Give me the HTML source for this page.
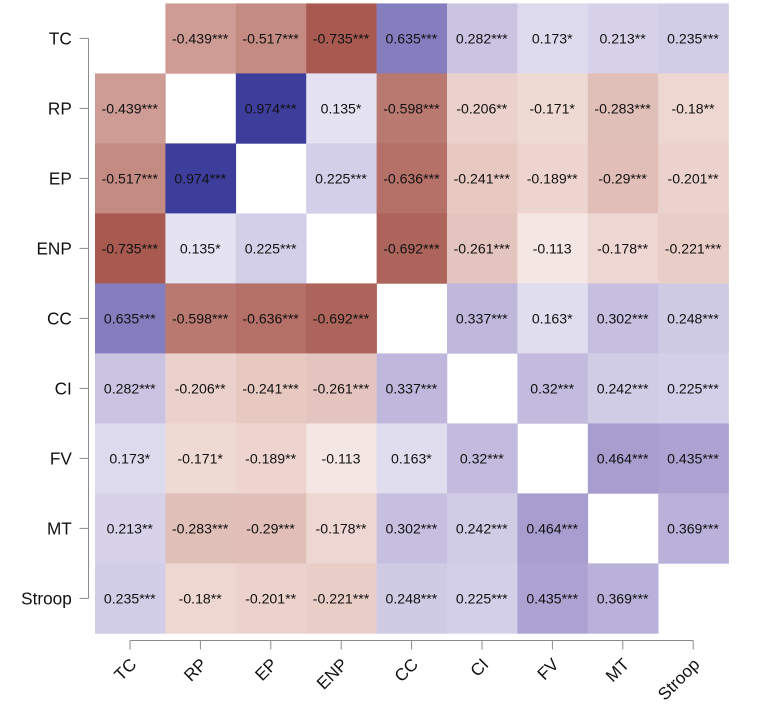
<!DOCTYPE html>
<html lang="en">
<head>
<meta charset="utf-8">
<title>Correlation heatmap</title>
<style>
html,body{margin:0;padding:0;background:#fff;width:776px;height:704px;overflow:hidden}
svg{display:block;font-family:"Liberation Sans",Arial,sans-serif}
</style>
</head>
<body>
<svg id="chart" width="776" height="704" viewBox="0 0 776 704" xmlns="http://www.w3.org/2000/svg"></svg>
<script>
const categories = ["TC","RP","EP","ENP","CC","CI","FV","MT","Stroop"];
const correlations = [
  [null,-0.439,-0.517,-0.735,0.635,0.282,0.173,0.213,0.235],
  [-0.439,null,0.974,0.135,-0.598,-0.206,-0.171,-0.283,-0.18],
  [-0.517,0.974,null,0.225,-0.636,-0.241,-0.189,-0.29,-0.201],
  [-0.735,0.135,0.225,null,-0.692,-0.261,-0.113,-0.178,-0.221],
  [0.635,-0.598,-0.636,-0.692,null,0.337,0.163,0.302,0.248],
  [0.282,-0.206,-0.241,-0.261,0.337,null,0.32,0.242,0.225],
  [0.173,-0.171,-0.189,-0.113,0.163,0.32,null,0.464,0.435],
  [0.213,-0.283,-0.29,-0.178,0.302,0.242,0.464,null,0.369],
  [0.235,-0.18,-0.201,-0.221,0.248,0.225,0.435,0.369,null]
];
const significance = [
  ["","***","***","***","***","***","*","**","***"],
  ["***","","***","*","***","**","*","***","**"],
  ["***","***","","***","***","***","**","***","**"],
  ["***","*","***","","***","***","","**","***"],
  ["***","***","***","***","","***","*","***","***"],
  ["***","**","***","***","***","","***","***","***"],
  ["*","*","**","","*","***","","***","***"],
  ["**","***","***","**","***","***","***","","***"],
  ["***","**","**","***","***","***","***","***",""]
];

const NS = "http://www.w3.org/2000/svg";
const svg = document.getElementById("chart");
const gridLeft = 95, gridTop = 3.4, cellW = 70.4, cellH = 70;
const axisColor = "#8a8a8a";

function xAt(i){ return gridLeft + i * cellW; }
function yAt(i){ return gridTop + i * cellH; }
function xMid(i){ return xAt(i) + cellW / 2 - 0.2; }
function yMid(i){ return yAt(i) + cellH / 2; }
function mix(a, b, t){
  return a.map((x, i) => Math.round(x + (b[i] - x) * t));
}
function colorFor(v){
  const m = Math.min(1, Math.abs(v));
  let c;
  if (v >= 0) {
    c = m < 0.464 ? mix([255,255,255], [167,157,207], m / 0.464)
                  : mix([167,157,207], [56,56,153], (m - 0.464) / 0.536);
  } else {
    c = m < 0.2 ? mix([255,255,255], [236,210,204], m / 0.2)
                : mix([236,210,204], [168,90,80], (m - 0.2) / 0.535);
  }
  return "rgb(" + c.map(x => Math.max(0, x)).join(",") + ")";
}
function make(tag, attrs, parent){
  const el = document.createElementNS(NS, tag);
  for (const k in attrs) el.setAttribute(k, attrs[k]);
  parent.appendChild(el);
  return el;
}

const cellsGroup = make("g", {}, svg);



correlations.forEach((row, r) => {
  row.forEach((v, c) => {
    if (v === null) return;
    const rect = make("rect", {x: xAt(c), y: yAt(r), width: cellW + 0.3, height: cellH + 0.3, fill: colorFor(v)}, cellsGroup);
    
    
  });
});
correlations.forEach((row, r) => {
  row.forEach((v, c) => {
    if (v === null) return;
    const label = make("text", {x: xMid(c) - 0.2, y: yMid(r) + 5.2, "text-anchor": "middle", "font-size": 14.1, fill: "#111"}, cellsGroup);
    label.textContent = String(v) + significance[r][c];
    
    
  });
});

const yAxis = make("g", {stroke: axisColor, "stroke-width": 1, fill: "none"}, svg);


make("line", {x1: 88.5, x2: 88.5, y1: yMid(0), y2: yMid(categories.length - 1)}, yAxis);

const xAxis = make("g", {stroke: axisColor, "stroke-width": 1, fill: "none"}, svg);


make("line", {x1: xMid(0), x2: xMid(categories.length - 1), y1: 640.5, y2: 640.5}, xAxis);

categories.forEach((name, i) => {
  const yTick = make("line", {x1: 79.5, x2: 88.5, y1: yMid(i), y2: yMid(i)}, yAxis);
  
  

  const yLabel = make("text", {x: 71.8, y: yMid(i) + 6, "text-anchor": "end", "font-size": 17.2, fill: "#111"}, svg);
  yLabel.textContent = name;
  
  

  const xTick = make("line", {x1: xMid(i), x2: xMid(i), y1: 640.5, y2: 649.5}, xAxis);
  
  

  const px = xMid(i) + 7.5, py = 665.5;
  const xLabel = make("text", {x: px, y: py, "text-anchor": "end", "font-size": 17.2, fill: "#111", transform: "rotate(-45 " + px + " " + py + ")"}, svg);
  xLabel.textContent = name;
  
  
});
</script>
</body>
</html>
